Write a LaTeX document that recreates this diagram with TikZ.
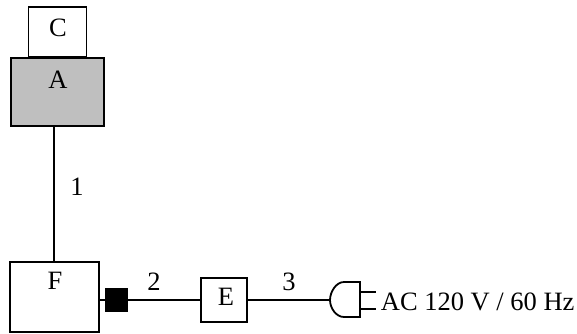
\documentclass[tikz,border=0pt]{standalone}
\usepackage{fontspec}
\setmainfont{Liberation Serif}
\begin{document}
\begin{tikzpicture}[x=1pt,y=-1pt,line width=1.8pt,
  boxn/.style={draw=black,minimum width=0pt,minimum height=0pt,inner sep=0pt,outer sep=0pt,anchor=north west},
  txt/.style={font=\fontsize{26.5}{26.5}\selectfont,inner sep=0pt}]
\useasboundingbox (0,0) rectangle (577,333);
\path[fill=white] (0,0) rectangle (577,333);
\node[boxn,fill=white,minimum width=58pt,minimum height=50pt] (C) at (28.5,7) {};
\node[boxn,fill=black!25,line width=2.1pt,minimum width=93pt,minimum height=68pt] (A) at (11,58) {};
\node[boxn,minimum width=89pt,minimum height=70pt] (F) at (10,262) {};
\node[boxn,fill=black,minimum width=21pt,minimum height=23pt] (S) at (106,288.5) {};
\node[boxn,minimum width=46pt,minimum height=44pt] (E) at (201,278) {};
\coordinate (P) at (330,300);
\coordinate (Atop) at (54,126);
\coordinate (Fbot) at (54,262);
\draw[line width=2.2pt] (Atop) -- (Fbot);
\draw (F.east |- S.west) -- (S.west);
\draw (S.east) -- (E.west);
\draw (E.east) -- (P);
\draw (360,282) -- (344,282) .. controls (336,282) and (330,292) .. (330,300)
  .. controls (330,308) and (336,317) .. (344,317) -- (360,317) -- cycle;
\draw (360,292) -- (376,292);
\draw (360,309) -- (376,309);
\node[txt] (tC) at (58,28) {C};
\node[txt] (tA) at (58,80) {A};
\node[txt] (tF) at (55,281) {F};
\node[txt] (tE) at (226,297) {E};
\node[txt] (t1) at (77,187) {1};
\node[txt] (t2) at (154,282) {2};
\node[txt] (t3) at (289,282) {3};
\node[txt,anchor=west] (tAC) at (380,302) {AC 120 V / 60 Hz};
\end{tikzpicture}
\end{document}
